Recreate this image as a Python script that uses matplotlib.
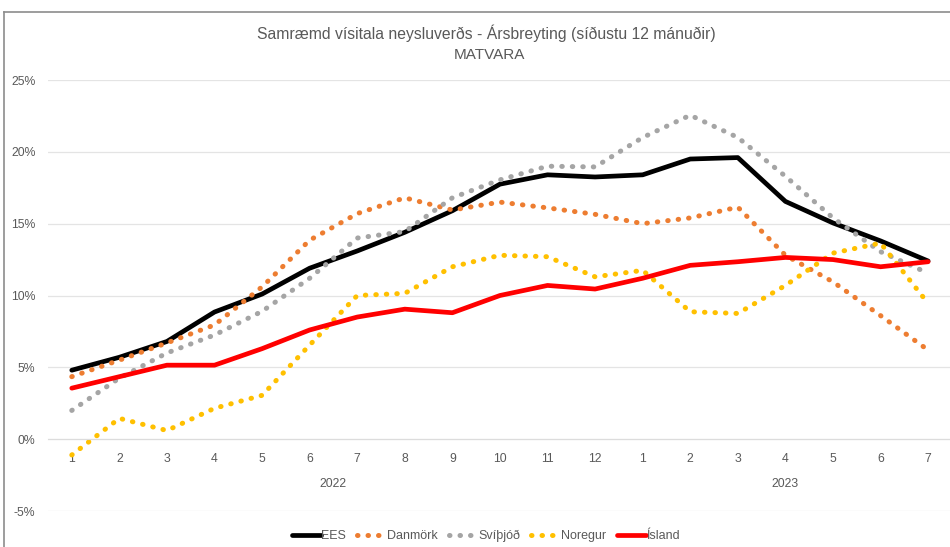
import matplotlib
matplotlib.use("Agg")
import matplotlib.pyplot as plt
from matplotlib.lines import Line2D

plt.rcParams['font.family'] = ['Liberation Sans', 'DejaVu Sans']

# months Jan 2022 .. Jul 2023
months = ["1", "2", "3", "4", "5", "6", "7", "8", "9", "10", "11", "12",
          "1", "2", "3", "4", "5", "6", "7"]
years = ["2022", "2023"]

ees = [4.8, 5.7, 6.8, 8.85, 10.1, 11.9, 13.1, 14.4, 15.9, 17.75, 18.4, 18.25,
       18.4, 19.5, 19.6, 16.55, 15.05, 13.8, 12.4]
danmork = [4.35, 5.5, 6.7, 7.95, 10.6, 13.85, 15.7, 16.8, 15.95, 16.5, 16.1, 15.65,
           15.0, 15.4, 16.15, 12.8, 10.95, 8.6, 6.2]
svithjod = [2.0, 4.25, 6.0, 7.25, 8.9, 11.2, 14.0, 14.45, 16.8, 18.05, 19.0, 18.95,
            21.0, 22.55, 21.0, 18.3, 15.4, 13.05, 11.55]
noregur = [-1.1, 1.45, 0.6, 2.15, 3.05, 6.55, 10.0, 10.15, 12.0, 12.8, 12.7, 11.3,
           11.75, 8.87, 8.75, 10.7, 12.95, 13.65, 9.45]
island = [3.55, 4.35, 5.15, 5.15, 6.3, 7.6, 8.5, 9.05, 8.8, 10.0, 10.7, 10.45,
          11.2, 12.1, 12.35, 12.65, 12.5, 12.0, 12.35]

x = list(range(1, len(months) + 1))
txt = "#595959"

fig = plt.figure(figsize=(9.5, 5.47), dpi=100)
ax = fig.add_axes([48 / 950, 1 - 511 / 547, 1 - 48 / 950, (511 - 80) / 547])

dot = (0, (0.1, 2.0))
ax.plot(x, ees, color="black", lw=3.4, solid_capstyle="round", label="EES")
ax.plot(x, danmork, color="#ED7D31", lw=3.6, ls=dot, dash_capstyle="round", label="Danmörk")
ax.plot(x, svithjod, color="#A5A5A5", lw=3.6, ls=dot, dash_capstyle="round", label="Svíþjóð")
ax.plot(x, noregur, color="#FFC000", lw=3.6, ls=dot, dash_capstyle="round", label="Noregur")
ax.plot(x, island, color="#FF0000", lw=3.4, solid_capstyle="round", label="Ísland")

ax.set_xlim(0.5, 19.46)
ax.set_ylim(-5, 25)
ax.set_yticks([-5, 0, 5, 10, 15, 20, 25])
ax.set_yticklabels([f"{v}%" for v in [-5, 0, 5, 10, 15, 20, 25]])
ax.grid(axis="y", color="#e4e4e4", lw=0.9)
ax.set_axisbelow(True)
for s in ["top", "right", "left"]:
    ax.spines[s].set_visible(False)
ax.spines["bottom"].set_position(("data", 0))
ax.spines["bottom"].set_color("#dcdcdc")
ax.set_xticks(x)
ax.set_xticklabels(months)
ax.tick_params(axis="x", length=0, pad=10, labelsize=8.8, colors=txt)
ax.tick_params(axis="y", length=0, pad=9, labelsize=8.8, colors=txt)

ax.text(6.5, -3.1, years[0], ha="center", va="center", fontsize=8.8, color=txt)
ax.text(16.0, -3.1, years[1], ha="center", va="center", fontsize=8.8, color=txt)

fig.text(486 / 950, 1 - 33 / 547, "Samræmd vísitala neysluverðs - Ársbreyting (síðustu 12 mánuðir)",
         ha="center", va="center", fontsize=11.3, color=txt)
fig.text(489 / 950, 1 - 55 / 547, "MATVARA", ha="center", va="center", fontsize=11.0, color=txt)

fig.legend(loc="center", bbox_to_anchor=(486 / 950, 1 - 536 / 547), ncol=5, frameon=False,
           fontsize=9, handlelength=2.3, handletextpad=0.05, columnspacing=0.9,
           labelcolor=txt)

# chart frame (left and top edges visible)
fig.add_artist(Line2D([4 / 950, 4 / 950], [0, 1 - 12 / 547], color="#8c8c8c", lw=1.2))
fig.add_artist(Line2D([4 / 950, 1], [1 - 12 / 547, 1 - 12 / 547], color="#8c8c8c", lw=1.2))

fig.savefig("out.png", dpi=100)
